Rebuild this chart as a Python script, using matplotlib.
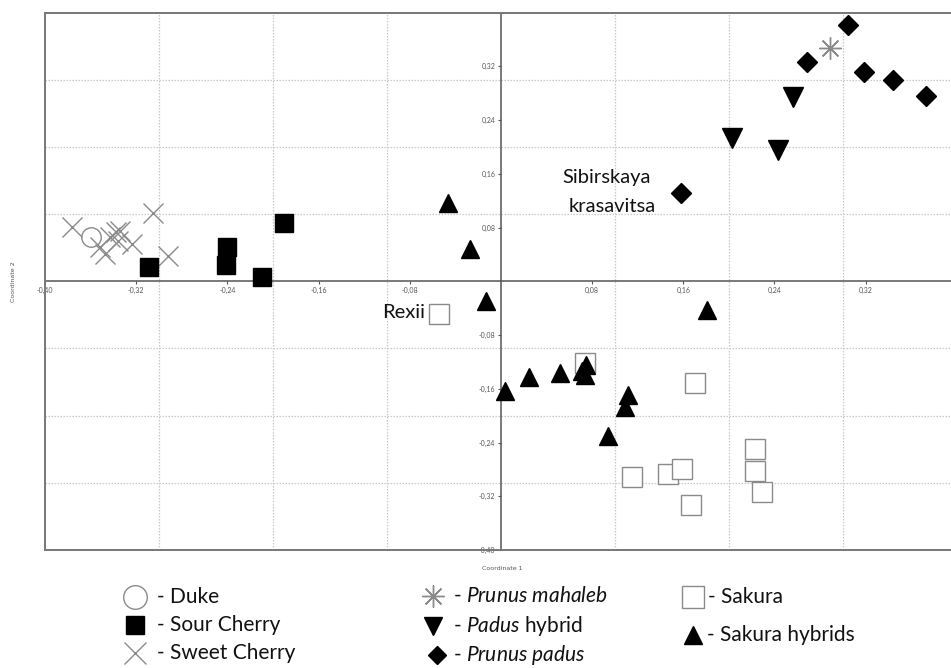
import matplotlib
matplotlib.use('Agg')
import matplotlib.pyplot as plt
from matplotlib.lines import Line2D
from matplotlib.ticker import FuncFormatter

plt.rcParams['font.family'] = ['Lato', 'DejaVu Sans']
plt.rcParams['mathtext.fontset'] = 'custom'
plt.rcParams['mathtext.rm'] = 'Lato'
plt.rcParams['mathtext.it'] = 'Lato:italic'

# ---------------- data ----------------
duke_x = [-0.360]
duke_y = [0.066]
sour_x = [-0.309, -0.240, -0.241, -0.210, -0.190]
sour_y = [0.021, 0.051, 0.024, 0.006, 0.087]
sweet_x = [-0.376, -0.305, -0.292, -0.352, -0.347, -0.343, -0.338, -0.334, -0.336, -0.324]
sweet_y = [0.081, 0.102, 0.037, 0.051, 0.040, 0.066, 0.073, 0.075, 0.060, 0.055]
mahaleb_x = [0.289]
mahaleb_y = [0.348]
padus_hyb_x = [0.256, 0.203, 0.243]
padus_hyb_y = [0.275, 0.213, 0.196]
padus_x = [0.305, 0.269, 0.319, 0.344, 0.373, 0.158]
padus_y = [0.381, 0.327, 0.312, 0.300, 0.276, 0.131]
sakura_x = [-0.054, 0.074, 0.170, 0.115, 0.147, 0.159, 0.167, 0.223, 0.223, 0.229]
sakura_y = [-0.048, -0.121, -0.152, -0.291, -0.287, -0.279, -0.333, -0.249, -0.282, -0.314]
sak_hyb_x = [-0.046, -0.027, -0.013, 0.004, 0.025, 0.052, 0.075, 0.071, 0.074, 0.112, 0.109, 0.094, 0.181]
sak_hyb_y = [0.116, 0.048, -0.030, -0.163, -0.142, -0.136, -0.124, -0.134, -0.139, -0.169, -0.187, -0.230, -0.042]

tick_vals = [-0.40, -0.32, -0.24, -0.16, -0.08, 0.08, 0.16, 0.24, 0.32]
grid_vals = [-0.3, -0.2, -0.1, 0.1, 0.2, 0.3]

W, H = 951, 668
fig = plt.figure(figsize=(W / 100, H / 100), dpi=100)
L, T, B = 45, 13, 550
ax = fig.add_axes([L / W, 1 - B / H, (W - L) / W, (B - T) / H])
ax.set_xlim(-0.40, 0.395)
ax.set_ylim(-0.40, 0.3995)

GREY = '#8a8a8a'
# sakura (open squares) first so triangles overlap
ax.plot(sakura_x, sakura_y, ls='none', marker='s', ms=15, mfc='white', mec=GREY, mew=1.0, zorder=3)
ax.plot(sak_hyb_x, sak_hyb_y, ls='none', marker='^', ms=13.5, mfc='black', mec='black', zorder=4)
ax.plot(duke_x, duke_y, ls='none', marker='o', ms=14, mfc='none', mec=GREY, mew=1.0, zorder=4)
ax.plot(sweet_x, sweet_y, ls='none', marker='x', ms=15, mec=GREY, mew=1.0, zorder=4)
ax.plot(sour_x, sour_y, ls='none', marker='s', ms=13, mfc='black', mec='black', zorder=4)
ax.plot(mahaleb_x, mahaleb_y, ls='none', marker=(8, 2, 0), ms=16, mec=GREY, mew=1.0, zorder=4)
ax.plot(padus_hyb_x, padus_hyb_y, ls='none', marker='v', ms=14, mfc='black', mec='black', zorder=4)
ax.plot(padus_x, padus_y, ls='none', marker='D', ms=10, mfc='black', mec='black', zorder=4)

# annotations
ax.text(0.0925, 0.155, 'Sibirskaya', fontsize=14.5, ha='center', va='center', color='#111')
ax.text(0.098, 0.112, 'krasavitsa', fontsize=14.5, ha='center', va='center', color='#111')
ax.text(-0.0855, -0.046, 'Rexii', fontsize=14.5, ha='center', va='center', color='#111')

# grid at 0.1 multiples (minor), labelled ticks at 0.08 multiples
ax.set_xticks(tick_vals)
ax.set_yticks(tick_vals)
ax.set_xticks(grid_vals, minor=True)
ax.set_yticks(grid_vals, minor=True)
ax.grid(False)
ax.grid(True, which='minor', ls=(0, (1.2, 1.2)), color='#c8c8c8', lw=0.9)
fmt = FuncFormatter(lambda v, p: ('%.2f' % v).replace('.', ','))
ax.xaxis.set_major_formatter(fmt)
ax.yaxis.set_major_formatter(fmt)
ax.tick_params(which='minor', length=0)
ax.tick_params(which='major', labelsize=5, labelcolor='#555', color='#555',
               length=2.5, width=0.8, pad=1.5)

# crossing axes
for s in ('left', 'bottom'):
    ax.spines[s].set_position(('data', 0))
    ax.spines[s].set_color('#555')
    ax.spines[s].set_linewidth(1.1)
ax.spines['right'].set_visible(False)
ax.spines['top'].set_color('#777')
ax.spines['top'].set_linewidth(1.4)
# outer frame left and bottom
ax.plot([0, 0], [0, 1], transform=ax.transAxes, color='#777', lw=1.4, clip_on=False, zorder=5)
ax.plot([0, 1], [0, 0], transform=ax.transAxes, color='#777', lw=1.4, clip_on=False, zorder=5)

fig.text(502 / W, 1 - 569 / H, 'Coordinate 1', fontsize=4.5, color='#555', ha='center', va='center',
         family='DejaVu Sans')
fig.text(14 / W, 1 - 282 / H, 'Coordinate 2', fontsize=4.5, color='#555', ha='center', va='center',
         rotation=90, family='DejaVu Sans')

# ---------------- legend ----------------
def fx(px):
    return px / W

def fy(py):
    return 1 - py / H

legend_items = [
    (135, 597, dict(marker='o', ms=17, mfc='none', mec=GREY, mew=1.0), 157, r'- Duke'),
    (135, 625, dict(marker='s', ms=12.5, mfc='black', mec='black'), 157, r'- Sour Cherry'),
    (135, 653, dict(marker='x', ms=16, mec=GREY, mew=1.0), 157, r'- Sweet Cherry'),
    (433, 596, dict(marker=(8, 2, 0), ms=16, mec=GREY, mew=1.0), 453, r'- $\it{Prunus\ mahaleb}$'),
    (433, 626, dict(marker='v', ms=13, mfc='black', mec='black'), 453, r'- $\it{Padus}$ hybrid'),
    (437, 655, dict(marker='D', ms=9, mfc='black', mec='black'), 453, r'- $\it{Prunus\ padus}$'),
    (693, 597, dict(marker='s', ms=16, mfc='white', mec=GREY, mew=1.0), 708, r'- Sakura'),
    (693, 635, dict(marker='^', ms=13, mfc='black', mec='black'), 707, r'- Sakura hybrids'),
]
for mx, my, style, tx, label in legend_items:
    fig.add_artist(Line2D([fx(mx)], [fy(my)], ls='none', transform=fig.transFigure, **style))
    fig.text(fx(tx), fy(my), label, fontsize=15, ha='left', va='center', color='#111')

fig.savefig('out.png', dpi=100)
